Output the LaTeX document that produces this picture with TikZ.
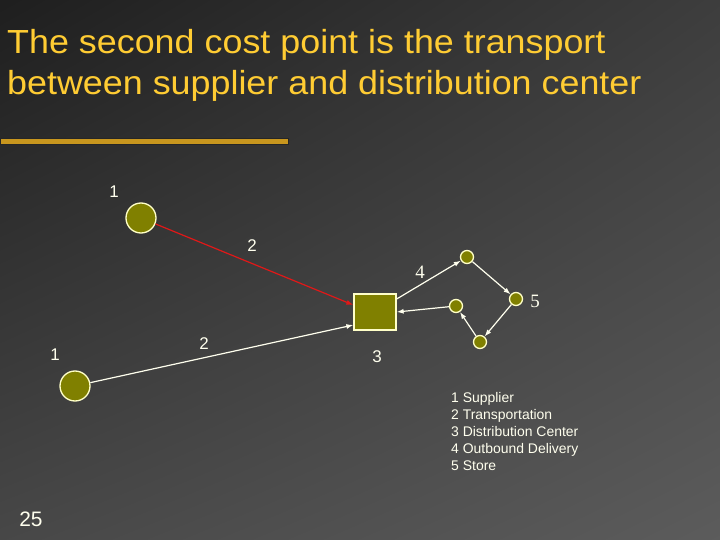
\documentclass[tikz,border=0pt]{standalone}
\usepackage{fontspec}
\setmainfont{Liberation Sans}
\newfontfamily\serifnum{Liberation Serif}
\usepackage{tikz}
\usetikzlibrary{arrows.meta, shadings}

\definecolor{olivefill}{HTML}{808000}
\definecolor{rimcol}{HTML}{FFFFC8}
\definecolor{goldbar}{HTML}{C8961E}
\definecolor{titlecol}{HTML}{FFCC33}
\definecolor{labelcol}{HTML}{FFFFEE}
\definecolor{arrowred}{HTML}{E01818}

\begin{document}
\begin{tikzpicture}[x=1bp,y=-1bp,
    site/.style={draw=rimcol, line width=1.3bp, fill=olivefill, circle, inner sep=0pt},
    bigsite/.style={site, minimum size=30bp},
    storedot/.style={site, minimum size=13bp},
    num/.style={text=labelcol, inner sep=0pt, font=\fontsize{17}{17}\selectfont},
    flow/.style={draw=labelcol, line width=1.2bp, -{Latex[length=7bp,width=5bp]}}]
        % Background
        \useasboundingbox (0,0) rectangle (720,540);
        \shade[upper left=black!88, upper right=black!76, lower left=black!72,
            lower right=black!64] (0,0) rectangle (720,540);

        % Title and bar
        \node[anchor=north west, inner sep=0pt, text=titlecol, align=left,
            xscale=1.075, transform shape,
            font=\fontsize{33.5}{41}\selectfont] (title) at (7,29.5)
            {The second cost point is the transport\\between supplier and distribution center};
        \fill[black!85] (0,138) rectangle (289,145);
        \fill[goldbar] (1,139.5) rectangle (287.5,143.8);

        % Sites
        \node[bigsite] (sup1) at (141,218) {};
        \node[bigsite] (sup2) at (75,386) {};
        \node[draw=rimcol, line width=1.3bp, fill=olivefill, inner sep=0pt,
            minimum width=42bp, minimum height=36bp] (dc) at (375,312) {};
        \node[storedot] (sa) at (467,257) {};
        \node[storedot] (sb) at (516,299) {};
        \node[storedot] (sc) at (480,342) {};
        \node[storedot] (sd) at (456,306) {};

        % Flows
        \draw[flow, draw=arrowred] (sup1) -- ([yshift=7bp]dc.west);
        \draw[flow] (sup2) -- ([yshift=-13bp]dc.west);
        \draw[flow] ([yshift=13bp]dc.east) -- (sa);
        \draw[flow] (sa) -- (sb);
        \draw[flow] (sb) -- (sc);
        \draw[flow] (sc) -- (sd);
        \draw[flow] (sd) -- (dc.east);

        % Labels
        \node[num] (n1a) at (114,192) {1};
        \node[num] (n2a) at (252,246) {2};
        \node[num, font=\serifnum\fontsize{19}{19}\selectfont] (n4) at (420,272) {4};
        \node[num, font=\serifnum\fontsize{19}{19}\selectfont] (n5) at (535,301) {5};
        \node[num] (n1b) at (55,355) {1};
        \node[num] (n2b) at (204,344) {2};
        \node[num] (n3) at (377,357) {3};

        % Legend
        \node[anchor=north west, inner sep=0pt, text=labelcol, align=left,
            font=\fontsize{14}{17}\selectfont] (legend) at (451,392)
            {1 Supplier\\2 Transportation\\3 Distribution Center\\4 Outbound Delivery\\5 Store};
        \node[text=labelcol, inner sep=0pt, font=\fontsize{21}{21}\selectfont] (page) at (31,519) {25};
\end{tikzpicture}
\end{document}
